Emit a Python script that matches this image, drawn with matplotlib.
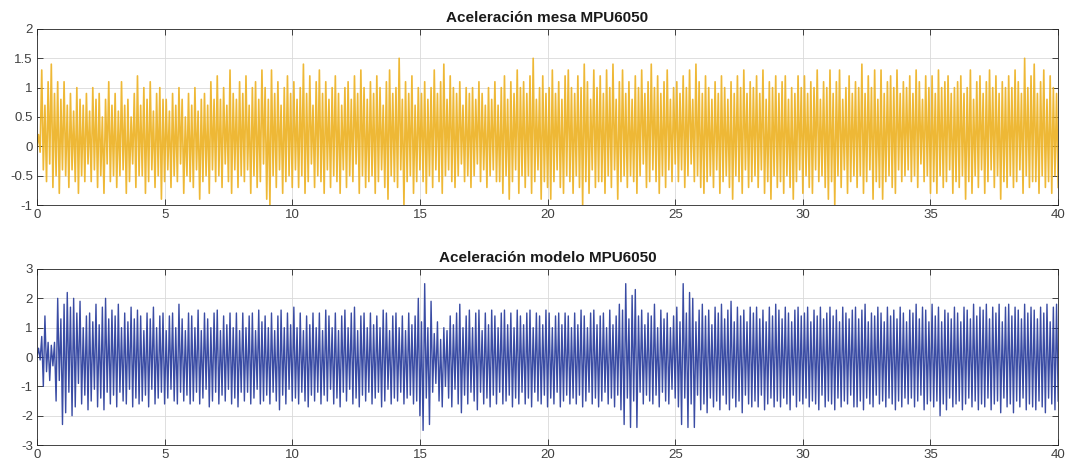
import numpy as np
import matplotlib
matplotlib.use('Agg')
from matplotlib import pyplot as plt

plt.rcParams['font.family'] = ['Liberation Sans', 'DejaVu Sans']
plt.rcParams['axes.unicode_minus'] = False

# valores, en décimas (8 ciclos por segundo)
# picos máximos / mínimos de la aceleración de la mesa
mesa_max = [
    [2, 13, 7, 11, 14, 9, 11, 8], [11, 7, 9, 6, 10, 8, 7, 9],
    [6, 10, 8, 9, 5, 8, 11, 7], [9, 6, 11, 7, 8, 5, 9, 12],
    [7, 10, 8, 11, 6, 9, 10, 8], [8, 6, 9, 7, 10, 8, 5, 9],
    [7, 10, 6, 8, 9, 7, 11, 8], [12, 8, 10, 7, 13, 9, 8, 11],
    [9, 12, 7, 10, 11, 8, 13, 10], [8, 13, 9, 11, 7, 10, 12, 9],
    [11, 8, 10, 14, 9, 12, 7, 11], [13, 9, 11, 8, 10, 12, 9, 7],
    [10, 11, 8, 12, 9, 13, 10, 8], [11, 9, 12, 10, 7, 11, 13, 9],
    [10, 15, 8, 11, 9, 12, 7, 10], [9, 11, 8, 10, 13, 9, 11, 14],
    [8, 12, 10, 9, 11, 7, 10, 9], [10, 8, 11, 9, 7, 10, 8, 11],
    [7, 10, 12, 8, 11, 9, 13, 10], [11, 9, 12, 15, 8, 10, 12, 9],
    [10, 13, 9, 11, 8, 12, 13, 10], [9, 12, 10, 14, 11, 8, 13, 10],
    [12, 9, 13, 10, 14, 8, 11, 13], [9, 11, 8, 12, 10, 13, 9, 11],
    [14, 10, 12, 9, 11, 13, 8, 10], [11, 9, 12, 10, 13, 8, 14, 11],
    [9, 12, 10, 8, 11, 9, 12, 10], [8, 11, 9, 12, 10, 13, 9, 11],
    [10, 12, 9, 13, 8, 11, 10, 12], [9, 11, 12, 8, 10, 9, 12, 10],
    [12, 9, 11, 10, 13, 8, 11, 10], [13, 9, 11, 13, 8, 10, 12, 9],
    [11, 10, 14, 9, 12, 10, 13, 8], [13, 9, 11, 12, 10, 13, 9, 11],
    [10, 12, 9, 13, 11, 8, 12, 10], [12, 9, 13, 10, 11, 12, 9, 10],
    [11, 12, 9, 10, 13, 8, 11, 12], [9, 11, 13, 10, 12, 9, 11, 10],
    [12, 10, 13, 11, 9, 15, 10, 12], [14, 9, 11, 13, 8, 12, 10, 9],
]
mesa_min = [
    [-1, -4, -6, -3, -7, -5, -8, -4], [-5, -7, -4, -6, -8, -5, -6, -3],
    [-6, -4, -7, -5, -8, -3, -6, -5], [-7, -5, -4, -8, -6, -3, -7, -5],
    [-5, -8, -6, -4, -7, -5, -9, -6], [-4, -7, -5, -6, -3, -8, -5, -6],
    [-7, -4, -9, -6, -5, -8, -4, -6], [-5, -7, -3, -6, -8, -4, -7, -5],
    [-6, -4, -8, -5, -7, -6, -3, -9], [-10, -5, -7, -4, -8, -6, -5, -7],
    [-4, -7, -5, -8, -6, -3, -7, -5], [-6, -8, -4, -7, -5, -6, -8, -4],
    [-7, -5, -6, -3, -8, -5, -7, -6], [-5, -8, -6, -4, -7, -9, -5, -6],
    [-7, -4, -10, -6, -5, -8, -6, -4], [-6, -8, -5, -7, -4, -6, -8, -5],
    [-4, -6, -7, -5, -3, -6, -5, -7], [-5, -3, -6, -4, -7, -5, -4, -6],
    [-6, -8, -5, -9, -6, -4, -8, -5], [-7, -5, -8, -6, -4, -9, -6, -7],
    [-9, -6, -4, -7, -8, -5, -6, -8], [-5, -7, -10, -6, -8, -4, -7, -6],
    [-6, -8, -5, -7, -4, -9, -6, -5], [-7, -5, -6, -8, -5, -3, -7, -6],
    [-4, -6, -8, -5, -7, -4, -6, -3], [-6, -4, -7, -5, -3, -6, -5, -7],
    [-8, -6, -5, -7, -4, -8, -6, -5], [-7, -9, -5, -6, -8, -4, -7, -6],
    [-5, -7, -4, -8, -6, -9, -5, -7], [-6, -8, -5, -7, -9, -6, -4, -8],
    [-5, -7, -8, -4, -6, -5, -7, -9], [-6, -10, -5, -7, -4, -8, -6, -5],
    [-7, -5, -8, -6, -4, -9, -6, -7], [-9, -6, -5, -7, -8, -4, -6, -5],
    [-4, -6, -5, -7, -3, -6, -5, -8], [-6, -8, -5, -7, -6, -4, -8, -6],
    [-7, -5, -9, -6, -8, -5, -7, -4], [-8, -6, -4, -7, -5, -9, -6, -7],
    [-5, -7, -6, -4, -8, -5, -7, -6], [-6, -8, -5, -7, -6, -8, -5, -7],
]

# picos máximos / mínimos de la aceleración del modelo
modelo_max = [
    [3, 7, 14, 5, 4, 5, 20, 13], [18, 22, 17, 20, 15, 19, 10, 14],
    [15, 12, 18, 11, 17, 20, 13, 16], [14, 18, 10, 15, 12, 17, 13, 16],
    [14, 9, 15, 13, 17, 10, 14, 15], [9, 14, 15, 10, 18, 13, 9, 15],
    [14, 10, 16, 9, 15, 13, 10, 15], [16, 9, 14, 11, 15, 10, 15, 9],
    [15, 10, 14, 15, 9, 16, 12, 14], [10, 15, 9, 14, 16, 10, 15, 11],
    [17, 10, 15, 9, 14, 11, 15, 10], [15, 9, 16, 14, 10, 15, 9, 14],
    [16, 10, 15, 17, 9, 14, 15, 10], [15, 11, 14, 10, 16, 15, 9, 14],
    [15, 10, 14, 9, 15, 11, 14, 20], [12, 25, 10, 19, 8, 12, 6, 10],
    [9, 14, 11, 15, 18, 10, 14, 16], [10, 15, 16, 9, 15, 11, 16, 14],
    [10, 15, 16, 11, 15, 10, 16, 14], [11, 15, 16, 10, 15, 14, 11, 16],
    [15, 10, 14, 15, 11, 15, 14, 10], [15, 11, 16, 14, 10, 15, 16, 11],
    [14, 15, 10, 16, 11, 14, 18, 16], [25, 13, 21, 23, 14, 16, 11, 15],
    [14, 18, 10, 16, 13, 15, 10, 14], [17, 12, 25, 15, 22, 20, 12, 16],
    [18, 14, 16, 11, 17, 15, 18, 13], [16, 19, 12, 17, 14, 16, 12, 17],
    [15, 17, 13, 16, 12, 17, 14, 18], [16, 13, 17, 15, 12, 16, 17, 14],
    [15, 17, 12, 16, 14, 17, 13, 15], [17, 14, 16, 12, 17, 15, 13, 16],
    [17, 13, 16, 18, 12, 15, 14, 17], [15, 12, 17, 14, 16, 13, 17, 15],
    [12, 16, 15, 18, 13, 17, 16, 12], [18, 14, 17, 12, 16, 15, 13, 17],
    [15, 12, 17, 16, 13, 18, 14, 17], [16, 18, 13, 17, 15, 18, 12, 17],
    [18, 14, 17, 16, 13, 18, 15, 17], [16, 13, 17, 15, 18, 12, 17, 18],
]
modelo_min = [
    [-1, -10, -5, -8, -3, -15, -8, -23], [-19, -12, -20, -17, -9, -16, -13, -18],
    [-15, -11, -17, -14, -18, -12, -16, -13], [-17, -12, -15, -16, -11, -17, -14, -16],
    [-15, -13, -17, -11, -16, -14, -12, -16], [-14, -11, -15, -16, -12, -15, -13, -16],
    [-15, -12, -16, -14, -11, -17, -15, -12], [-16, -13, -15, -11, -16, -14, -17, -12],
    [-15, -12, -16, -14, -11, -16, -15, -13], [-16, -12, -15, -18, -13, -16, -11, -15],
    [-14, -16, -12, -15, -17, -13, -15, -12], [-16, -13, -15, -11, -16, -14, -17, -12],
    [-15, -11, -16, -14, -17, -13, -15, -12], [-16, -14, -12, -17, -15, -11, -16, -14],
    [-15, -12, -16, -14, -13, -16, -15, -20], [-25, -14, -23, -12, -9, -15, -17, -10],
    [-14, -17, -11, -16, -19, -13, -16, -12], [-15, -18, -12, -16, -14, -17, -13, -16],
    [-12, -16, -15, -13, -17, -14, -16, -12], [-16, -14, -17, -12, -15, -16, -13, -17],
    [-14, -16, -12, -17, -15, -13, -16, -14], [-16, -13, -17, -15, -12, -16, -14, -17],
    [-15, -12, -16, -14, -17, -13, -18, -23], [-14, -24, -15, -24, -12, -16, -13, -15],
    [-16, -13, -17, -12, -15, -16, -11, -14], [-17, -23, -14, -24, -16, -24, -13, -18],
    [-16, -19, -14, -17, -15, -18, -13, -16], [-18, -14, -17, -15, -19, -13, -16, -17],
    [-15, -17, -13, -18, -16, -14, -17, -15], [-17, -14, -16, -18, -13, -17, -15, -16],
    [-14, -17, -15, -16, -18, -13, -17, -15], [-16, -18, -14, -17, -15, -16, -13, -17],
    [-17, -15, -18, -14, -16, -17, -13, -16], [-15, -17, -14, -16, -18, -15, -17, -14],
    [-16, -14, -17, -15, -13, -18, -16, -15], [-17, -15, -20, -16, -18, -14, -17, -16],
    [-15, -18, -16, -14, -17, -15, -18, -16], [-17, -14, -18, -16, -15, -19, -14, -17],
    [-16, -19, -15, -17, -14, -18, -16, -17], [-18, -15, -17, -19, -14, -16, -18, -15],
]

titulos = ['Aceleración mesa MPU6050', 'Aceleración modelo MPU6050']
colores = ['#EDB120', '#24389A']
grosores = [1.2, 1.0]


def serie(maximos, minimos):
    # intercala máximos y mínimos: subida, bajada, subida...
    y = np.column_stack([np.ravel(maximos), np.ravel(minimos)]).ravel() / 10.0
    y = np.concatenate([[0.0], y])
    t = np.linspace(0, 40, len(y))
    return t, y


fig = plt.figure(figsize=(10.71, 4.67), dpi=100)
ax1 = fig.add_axes([0.0345, 0.561, 0.9535, 0.377])
ax2 = fig.add_axes([0.0345, 0.047, 0.9535, 0.377])

datos = [(mesa_max, mesa_min), (modelo_max, modelo_min)]
for ax, (mx, mn), titulo, color, lw in zip([ax1, ax2], datos, titulos, colores, grosores):
    t, y = serie(mx, mn)
    ax.plot(t, y, color=color, linewidth=lw, alpha=0.9)
    ax.set_xlim(0, 40)
    ax.set_xticks(np.arange(0, 41, 5))
    ax.set_title(titulo, fontsize=11, fontweight='bold', color='#1a1a1a', pad=5)
    ax.grid(True, color='#d9d9d9', linewidth=0.6)
    ax.set_axisbelow(True)
    ax.tick_params(direction='in', top=True, right=True, length=4, width=0.6,
                   labelsize=9.5, colors='#262626', labelcolor='#404040', pad=3)
    for s in ax.spines.values():
        s.set_color('#262626')
        s.set_linewidth(0.6)

ax1.set_ylim(-1, 2)
ax1.set_yticks([-1, -0.5, 0, 0.5, 1, 1.5, 2])
ax1.set_yticklabels(['-1', '-0.5', '0', '0.5', '1', '1.5', '2'])
ax2.set_ylim(-3, 3)
ax2.set_yticks(np.arange(-3, 4, 1))

fig.savefig('out.png', dpi=100)
